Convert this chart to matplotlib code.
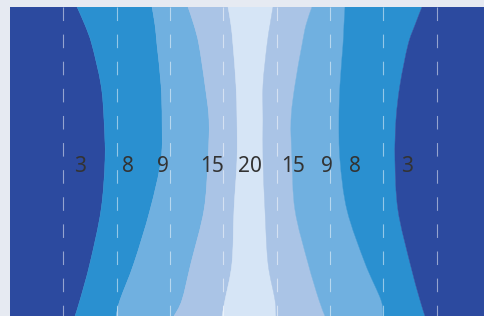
import matplotlib
matplotlib.use("Agg")
import matplotlib.pyplot as plt
from matplotlib.path import Path
from matplotlib.patches import PathPatch
import numpy as np

# rows (vertical category positions, px-like units from the top of the plot)
rows = [0, 18, 38, 78, 113, 153, 203, 256, 293, 309]

# band widths per row, left to right
dark_l   = [67, 75, 82, 91, 94, 95, 91, 80, 70, 65]
med_l    = [75, 70, 65, 60, 58, 56, 49, 44, 40, 41]
light_l  = [36, 39, 42, 44, 47, 47, 54, 57, 62, 58]
pale_l   = [40, 37, 34, 31, 28, 29, 30, 41, 43, 48]
palest   = [45, 39, 34, 27, 26, 26, 31, 36, 50, 54]
pale_r   = [39, 36, 35, 32, 28, 29, 30, 40, 44, 49]
light_r  = [33, 38, 41, 45, 48, 48, 52, 57, 62, 58]
med_r    = [77, 71, 65, 60, 57, 55, 51, 45, 39, 42]
dark_r   = [68, 75, 82, 90, 94, 95, 92, 80, 70, 65]

# labels along the middle row
label_values = [3, 8, 9, 15, 20, 15, 9, 8, 3]
label_x = [70, 118, 153, 202, 240, 283, 317, 345, 397]
label_row = 159

C_DARK = "#2c4a9f"
C_MED = "#2a90d0"
C_LIGHT = "#70b0e0"
C_PALE = "#aac4e6"
C_PALEST = "#d6e5f6"

series = [dark_l, med_l, light_l, pale_l, palest, pale_r, light_r, med_r, dark_r]
colors = [C_DARK, C_MED, C_LIGHT, C_PALE, C_PALEST, C_PALE, C_LIGHT, C_MED, C_DARK]


def smooth_segments(pts):
    """Bezier (CURVE4) path pieces passing through pts (smooth line)."""
    verts, codes = [], []
    n = len(pts)
    for i in range(n - 1):
        p0 = pts[max(i - 1, 0)]
        p1 = pts[i]
        p2 = pts[i + 1]
        p3 = pts[min(i + 2, n - 1)]
        c1 = p1 + (p2 - p0) / 6.0
        c2 = p2 - (p3 - p1) / 6.0
        verts += [tuple(c1), tuple(c2), tuple(p2)]
        codes += [Path.CURVE4] * 3
    return verts, codes


W, H = 485, 316
fig = plt.figure(figsize=(W / 100, H / 100), dpi=100)
fig.patch.set_facecolor("#e6eaf2")

x_total = 480
ax = fig.add_axes([10 / W, 0, x_total / W, 309 / H])
ax.set_xlim(0, x_total)
ax.set_ylim(309, 0)
ax.set_axis_off()

y = np.array(rows, dtype=float)
left = np.zeros_like(y)
for vals, col in zip(series, colors):
    right = left + np.array(vals, dtype=float)
    lpts = np.column_stack([left, y])
    rpts = np.column_stack([right, y])[::-1]
    verts = [tuple(lpts[0])]
    codes = [Path.MOVETO]
    v, c = smooth_segments(lpts)
    verts += v
    codes += c
    verts.append(tuple(rpts[0]))
    codes.append(Path.LINETO)
    v, c = smooth_segments(rpts)
    verts += v
    codes += c
    verts.append(tuple(lpts[0]))
    codes.append(Path.CLOSEPOLY)
    ax.add_patch(PathPatch(Path(verts, codes), facecolor=col, edgecolor=col,
                           linewidth=0.3))
    left = right

# dashed grid lines between the nine columns
for gx in np.linspace(0, x_total, 10)[1:-1]:
    ax.plot([gx, gx], [0, 309], color="white", alpha=0.5, linewidth=0.8,
            dashes=(12.2, 12.2), dash_capstyle="butt")

for v, lx in zip(label_values, label_x):
    ax.text(lx, label_row, str(v), ha="center", va="center", fontsize=15,
            color="#333333", family=["Noto Sans", "DejaVu Sans"])

fig.savefig("out.png", dpi=100, facecolor=fig.get_facecolor())
